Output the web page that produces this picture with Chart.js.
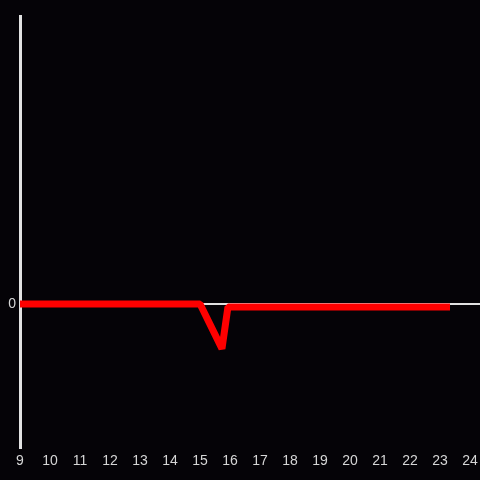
<!DOCTYPE html>
<html>
<head>
<meta charset="utf-8">
<script src="https://cdn.jsdelivr.net/npm/chart.js@4"></script>
<style>
    html, body { margin: 0; padding: 0; background: #050307; }
    canvas { display: block; }
</style>
</head>
<body>
<canvas id="chart" width="480" height="480"></canvas>
<script>
// Series (x in hours, y value)
const xValues = [9, 15, 15.73, 15.93, 23.33];
const yValues = [0, 0, -0.31, -0.02, -0.02];

// Tick labels
const xTicks = [9, 10, 11, 12, 13, 14, 15, 16, 17, 18, 19, 20, 21, 22, 23, 24];
const yTicks = [0];

const labelColor = '#d6d6d6';
const axisColor = '#e2e2e2';

const ctx = document.getElementById('chart').getContext('2d');

new Chart(ctx, {
    type: 'line',
    data: {
        datasets: [{
            data: xValues.map((x, i) => ({ x: x, y: yValues[i] })),
            borderColor: '#ff0000',
            borderWidth: 7,
            borderJoinStyle: 'bevel',
            pointRadius: 0,
            tension: 0,
            fill: false
        }]
    },
    options: {
        responsive: false,
        animation: false,
        layout: {
            padding: { top: 16, right: 0, bottom: 0, left: 0 }
        },
        plugins: {
            legend: { display: false },
            tooltip: { enabled: false }
        },
        scales: {
            x: {
                type: 'linear',
                min: 9,
                max: 24.33,
                afterBuildTicks: scale => {
                    scale.ticks = xTicks.map(v => ({ value: v }));
                },
                afterFit: scale => {
                    scale.height = 32;
                    scale.paddingLeft = 0;
                    scale.paddingRight = 0;
                },
                grid: { display: false, drawTicks: false },
                border: { display: false },
                ticks: {
                    color: labelColor,
                    padding: 5,
                    maxRotation: 0,
                    autoSkip: false,
                    font: { family: 'Liberation Sans', size: 14 }
                }
            },
            y: {
                min: -1,
                max: 2,
                afterBuildTicks: scale => {
                    scale.ticks = yTicks.map(v => ({ value: v }));
                },
                afterFit: scale => {
                    scale.width = 20;
                    scale.paddingTop = 0;
                    scale.paddingBottom = 0;
                },
                grid: {
                    drawTicks: false,
                    color: axisColor,
                    lineWidth: 2
                },
                border: {
                    display: true,
                    color: axisColor,
                    width: 3
                },
                ticks: {
                    color: labelColor,
                    padding: 4,
                    font: { family: 'Liberation Sans', size: 14 }
                }
            }
        }
    }
});
</script>
</body>
</html>
